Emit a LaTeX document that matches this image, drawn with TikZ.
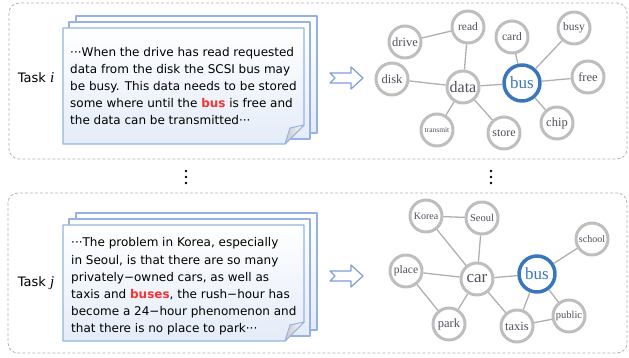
\documentclass[tikz,border=0pt]{standalone}
\usepackage{fontspec}
\usepackage{xcolor}
\usepackage{tikz}
\usetikzlibrary{
	positioning,    % posizionamento dei nodi
	shadows         % ombra dei cerchi
}
\newfontfamily\testofont{DejaVu Sans}
\newfontfamily\parolefont{Liberation Serif}

% Colori
\definecolor{bordoblu}{RGB}{150,178,226}
\definecolor{fogliofondo}{RGB}{228,236,249}
\definecolor{grigiocerchio}{RGB}{190,190,190}
\definecolor{grigioarco}{RGB}{175,175,175}
\definecolor{grigiotesto}{RGB}{80,80,95}
\definecolor{blubus}{RGB}{58,118,190}
\definecolor{rossoparola}{RGB}{250,50,50}
\definecolor{frecciablu}{RGB}{125,158,220}

\newcommand{\corpo}[1]{\parolefont\fontsize{#1}{#1}\selectfont}
\newcommand{\evid}[1]{\textcolor{rossoparola}{\bfseries #1}}
\newcommand{\indice}[1]{{\parolefont\itshape\fontsize{15}{15}\selectfont #1}}

\tikzset{
	riquadro/.style={draw=gray!60, rounded corners=10pt, line width=0.8pt, dash pattern=on 3pt off 2pt},
	foglio/.style={draw=bordoblu, line width=1.2pt, top color=white, bottom color=fogliofondo},
	piega/.style={draw=bordoblu, line width=1pt, left color=gray!45, right color=white},
	testo/.style={align=left, inner sep=0pt, font=\testofont\fontsize{12}{17.2}\selectfont},
	etichetta/.style={inner sep=0pt, font=\testofont\fontsize{13}{15}\selectfont},
	freccia/.style={draw=frecciablu, line width=1.2pt, fill=white},
	nodo/.style={circle, draw=grigiocerchio, line width=3pt, fill=white, minimum size=32pt,
		inner sep=0pt, text=grigiotesto, font=\corpo{12.5},
		drop shadow={opacity=0.15, shadow xshift=0.8pt, shadow yshift=-0.8pt}},
	nodobus/.style={nodo, draw=blubus, line width=3.5pt, minimum size=36pt, text=blubus, font=\corpo{17}},
	arco/.style={draw=grigioarco, line width=1.3pt}
}

% pila di tre fogli, #1 = bordo superiore del foglio davanti
\newcommand{\pila}[1]{%
	\draw[foglio] (76,{#1-12}) rectangle (317,{#1+105});
	\draw[foglio] (69,{#1-6}) rectangle (310,{#1+111});
	\draw[foglio] (63,#1) -- (304,#1) -- (304,{#1+97}) -- (285,{#1+116}) -- (63,{#1+116}) -- cycle;
	\draw[piega] (304,{#1+97}) -- (290,{#1+100}) -- (285,{#1+116}) -- cycle;
}

\begin{document}
\begin{tikzpicture}[x=1pt, y=-1pt, line join=round]
	\useasboundingbox (0,0) rectangle (629,358);
	
	% --- Riquadri ---
	\draw[riquadro] (9,3) rectangle (627,159);
	\draw[riquadro] (8,193) rectangle (627,353);
	
	% --- Puntini ---
	\fill (186,171) circle (1.3pt) (186,177) circle (1.3pt) (186,183) circle (1.3pt);
	\fill (491,171) circle (1.3pt) (491,177) circle (1.3pt) (491,183) circle (1.3pt);
	
	% --- Etichette ---
	\node[etichetta] (taski) at (36,78) {Task \indice{i}};
	\node[etichetta] (taskj) at (36,283) {Task \indice{j}};
	
	% --- Documenti ---
	\pila{28}
	\node[testo, anchor=west] (testoi) at (70,86) {···When the drive has read requested\\
		data from the disk the SCSI bus may\\
		be busy. This data needs to be stored\\
		some where until the \evid{bus} is free and\\
		the data can be transmitted···};
	
	\pila{225}
	\node[testo, anchor=west] (testoj) at (71,286.5) {···The problem in Korea, especially\\
		in Seoul, is that there are so many\\
		privately−owned cars, as well as\\
		taxis and \evid{buses}, the rush−hour has\\
		become a 24−hour phenomenon and\\
		that there is no place to park···};
	
	% --- Frecce ---
	\draw[freccia] (330,73) -- (351,73) -- (351,67) -- (363,78) -- (351,89) -- (351,83) -- (330,83) -- (335,78) -- cycle;
	\draw[freccia] (330,271) -- (351,271) -- (351,265) -- (363,276) -- (351,287) -- (351,281) -- (330,281) -- (335,276) -- cycle;
	
	% --- Grafo Task i ---
	\node[nodo] (drive) at (405,42) {drive};
	\node[nodo, font=\corpo{11.5}] (read) at (468,27) {read};
	\node[nodo, font=\corpo{11.5}] (card) at (512,37) {card};
	\node[nodo, font=\corpo{11.5}] (busy) at (574,28) {busy};
	\node[nodo] (disk) at (392,79) {disk};
	\node[nodo, font=\corpo{16}] (data) at (463,87) {data};
	\node[nodobus] (busi) at (522,83) {bus};
	\node[nodo] (free) at (588,77) {free};
	\node[nodo, font=\corpo{7.5}] (transmit) at (437,130) {transmit};
	\node[nodo, font=\corpo{12}] (store) at (504,133) {store};
	\node[nodo] (chip) at (557,123) {chip};
	
	\draw[arco] (drive) -- (read) (read) -- (data) (disk) -- (data) (data) -- (busi)
		(data) -- (transmit) (data) -- (store) (busi) -- (card) (busi) -- (busy)
		(busi) -- (free) (busi) -- (chip);
	
	% --- Grafo Task j ---
	\node[nodo, font=\corpo{10}] (korea) at (426,216) {Korea};
	\node[nodo, font=\corpo{10.5}] (seoul) at (482,218) {Seoul};
	\node[nodo, font=\corpo{10}] (school) at (592,239) {school};
	\node[nodo, font=\corpo{11.5}] (place) at (406,271) {place};
	\node[nodo, font=\corpo{17}] (car) at (477,279) {car};
	\node[nodobus] (busj) at (537,274) {bus};
	\node[nodo] (park) at (449,324) {park};
	\node[nodo] (taxis) at (517,326) {taxis};
	\node[nodo, font=\corpo{10.5}] (public) at (569,316) {public};
	
	\draw[arco] (korea) -- (seoul) (korea) -- (car) (seoul) -- (car) (place) -- (car)
		(place) -- (park) (car) -- (park) (car) -- (busj) (car) -- (taxis)
		(busj) -- (taxis) (busj) -- (school) (busj) -- (public) (taxis) -- (public);
\end{tikzpicture}
\end{document}
